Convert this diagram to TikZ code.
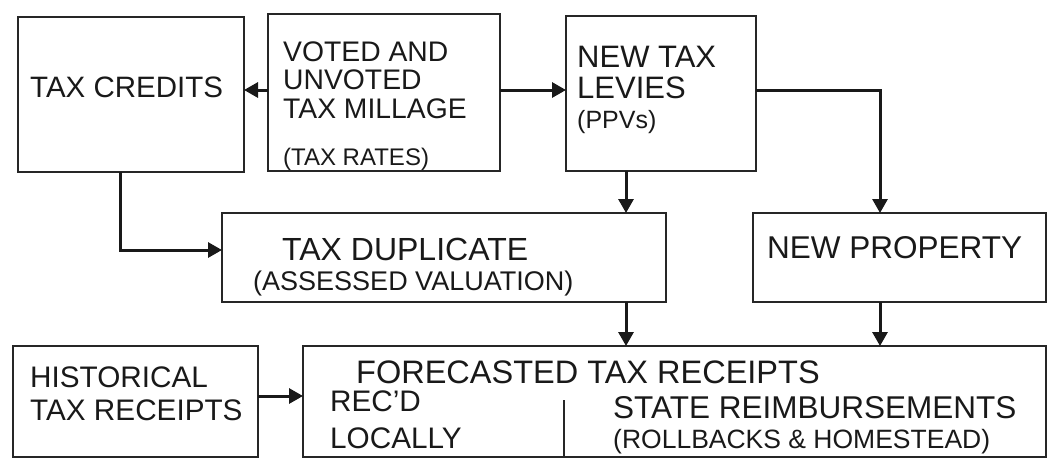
\documentclass[tikz,border=0pt]{standalone}
\usepackage{fontspec}
\setmainfont{Liberation Sans}
\usetikzlibrary{arrows.meta}
\newcommand{\fs}[2]{\fontsize{#1}{#2}\selectfont}
\begin{document}
\begin{tikzpicture}[x=1pt,y=-1pt,
  boxline/.style={line width=2.2pt,draw=black!85},
  flow/.style={line width=3pt,draw=black!90,-{Triangle[length=14pt,width=15pt]}},
  lbl/.style={anchor=base west,inner sep=0pt,text=black!90,align=left}]
\useasboundingbox (0,0) rectangle (1048,459);

% boxes
\draw[boxline] (18,17) rectangle (244,172);
\draw[boxline] (268,14) rectangle (500,171);
\draw[boxline] (566,16) rectangle (756,171);
\draw[boxline] (222,213) rectangle (666,302);
\draw[boxline] (753,213) rectangle (1046,302);
\draw[boxline] (13,346) rectangle (258,457);
\draw[boxline] (303,346) rectangle (1046,457);

% named anchors on box edges
\coordinate (credR) at (244,90);
\coordinate (credB) at (120,172);
\coordinate (votL) at (268,90);
\coordinate (votR) at (500,90);
\coordinate (levL) at (566,90);
\coordinate (levR) at (756,90);
\coordinate (levB) at (626,171);
\coordinate (dupT) at (626,213);
\coordinate (dupL) at (222,250);
\coordinate (dupB) at (626,302);
\coordinate (propT) at (880,213);
\coordinate (propB) at (880,302);
\coordinate (histR) at (258,396);
\coordinate (foreL) at (303,396);
\coordinate (foreT1) at (626,346);
\coordinate (foreT2) at (880,346);
\coordinate (divT) at (564,400);
\coordinate (divB) at (564,457);

% texts (multi-line nodes are placed by the baseline of their last line)
\node[lbl,font=\fs{29.5}{30}] (tc) at (30,97) {TAX CREDITS};
\node[lbl,font=\fs{28.3}{28.3}] (v1) at (283,118) {VOTED AND\\UNVOTED\\TAX MILLAGE};
\node[lbl,font=\fs{24}{26}] (v4) at (283,165) {(TAX RATES)};
\node[lbl,font=\fs{31}{31}] (l1) at (577,98) {NEW TAX\\LEVIES};
\node[lbl,font=\fs{25}{26}] (l3) at (577,128) {(PPVs)};
\node[lbl,font=\fs{32}{32}] (d1) at (282,260) {TAX DUPLICATE};
\node[lbl,font=\fs{27}{27}] (d2) at (253,290) {(ASSESSED VALUATION)};
\node[lbl,font=\fs{31.5}{32}] (p1) at (767,258) {NEW PROPERTY};
\node[lbl,font=\fs{29.7}{33}] (h1) at (30,420) {HISTORICAL\\TAX RECEIPTS};
\node[lbl,font=\fs{32.5}{33}] (f1) at (356,383) {FORECASTED TAX RECEIPTS};
\node[lbl,font=\fs{29.7}{37}] (f2) at (330,448) {REC'D\\LOCALLY};
\node[lbl,font=\fs{31.5}{32}] (s1) at (613,418) {STATE REIMBURSEMENTS};
\node[lbl,font=\fs{26.5}{27}] (s2) at (613,448) {(ROLLBACKS \& HOMESTEAD)};

% connectors
\draw[flow] (votL) -- (credR);
\draw[flow] (votR) -- (levL);
\draw[flow] (levR) -| (propT);
\draw[flow] (levB) -- (dupT);
\draw[flow] (credB) |- (dupL);
\draw[flow] (dupB) -- (foreT1);
\draw[flow] (propB) -- (foreT2);
\draw[flow] (histR) -- (foreL);
\draw[line width=1.6pt,draw=black!85] (divT) -- (divB);
\end{tikzpicture}
\end{document}
